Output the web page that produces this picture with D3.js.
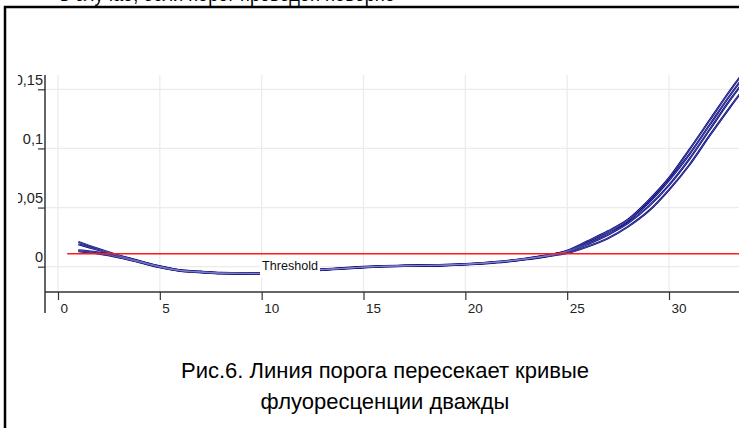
<!DOCTYPE html>
<html>
<head>
<meta charset="utf-8">
<script src="https://cdn.jsdelivr.net/npm/d3@7"></script>
<style>
  html, body { margin: 0; padding: 0; background: #fff; }
  svg { display: block; }
</style>
</head>
<body>
<svg id="chart" width="739" height="428"></svg>
<script>
// Amplification curves (fluorescence vs. cycle) for four replicate wells
const cycles = d3.range(1, 35);
const wellA = [0.021, 0.015, 0.0095, 0.0048, 0.0004, -0.0029, -0.0041, -0.0051, -0.0053, -0.0054,
               -0.0044, -0.0032, -0.0021, -0.0012, -0.0001, 0.0006, 0.0010, 0.0013, 0.0016, 0.0023,
               0.0034, 0.0049, 0.0070, 0.0096, 0.0135, 0.0215, 0.030, 0.040, 0.056, 0.075,
               0.099, 0.124, 0.149, 0.172];
const wellB = [0.019, 0.014, 0.0090, 0.0045, 0.0001, -0.0031, -0.0043, -0.0053, -0.0055, -0.0056,
               -0.0046, -0.0034, -0.0023, -0.0014, -0.0003, 0.0004, 0.0008, 0.0011, 0.0014, 0.0021,
               0.0032, 0.0047, 0.0068, 0.0094, 0.0130, 0.0200, 0.029, 0.039, 0.054, 0.073,
               0.095, 0.120, 0.145, 0.168];
const wellC = [0.014, 0.012, 0.0082, 0.0040, -0.0003, -0.0034, -0.0046, -0.0056, -0.0057, -0.0058,
               -0.0048, -0.0036, -0.0025, -0.0015, -0.0004, 0.0003, 0.0007, 0.0010, 0.0013, 0.0020,
               0.0031, 0.0045, 0.0065, 0.0091, 0.0125, 0.0190, 0.027, 0.037, 0.051, 0.069,
               0.091, 0.116, 0.141, 0.164];
const wellD = [0.013, 0.011, 0.0078, 0.0037, -0.0005, -0.0036, -0.0048, -0.0058, -0.0059, -0.0060,
               -0.0050, -0.0038, -0.0027, -0.0017, -0.0006, 0.0001, 0.0005, 0.0008, 0.0011, 0.0018,
               0.0028, 0.0042, 0.0062, 0.0087, 0.0115, 0.0170, 0.024, 0.034, 0.047, 0.065,
               0.086, 0.111, 0.135, 0.158];
const wells = [wellA, wellB, wellC, wellD];

const threshold = 0.011;
const thresholdStart = 0.45;
const xTicks = [0, 5, 10, 15, 20, 25, 30];
const yTicks = [0, 0.05, 0.1, 0.15];
const headerText = "в случае, если порог проведен неверно";
const captionLines = ["Рис.6. Линия порога пересекает кривые", "флуоресценции дважды"];

const svg = d3.select("#chart");
const W = 739;
const axisX = 45, axisY = 292, plotTop = 75;
const font = "Liberation Sans, Arial, sans-serif";

const x = d3.scaleLinear().domain([0, 30]).range([58, 669]);
const y = d3.scaleLinear().domain([0, 0.15]).range([266.7, 89.3]);

// clipped drawing area for the chart panel
svg.append("defs").append("clipPath").attr("id", "panel")
  .append("rect").attr("x", 18).attr("y", 0).attr("width", W - 18).attr("height", 330);

// text line above the frame, running off the top edge
svg.append("text")
  .attr("x", 60).attr("y", 0.5)
  .attr("font-family", font)
  .attr("font-size", 22).attr("fill", "#000")
  .attr("textLength", 335).attr("lengthAdjust", "spacingAndGlyphs")
  .text(headerText);

// frame
svg.append("rect")
  .attr("x", 5).attr("y", 7).attr("width", W + 10).attr("height", 440)
  .attr("fill", "none").attr("stroke", "#000").attr("stroke-width", 2.5);

const g = svg.append("g").attr("clip-path", "url(#panel)");

// grid
g.append("g").selectAll("line").data(xTicks).join("line")
  .attr("x1", d => x(d)).attr("x2", d => x(d))
  .attr("y1", plotTop).attr("y2", axisY)
  .attr("stroke", "#ebebeb").attr("stroke-width", 1.2);
g.append("g").selectAll("line").data(yTicks).join("line")
  .attr("x1", axisX).attr("x2", W)
  .attr("y1", d => y(d)).attr("y2", d => y(d))
  .attr("stroke", "#ebebeb").attr("stroke-width", 1.2);

// x axis
const xAxis = g.append("g")
  .attr("transform", `translate(0,${axisY})`)
  .call(d3.axisBottom(x).tickValues(xTicks).tickSize(8).tickSizeOuter(0));
xAxis.select(".domain").remove();
xAxis.selectAll(".tick line").attr("stroke", "#333").attr("stroke-width", 1.2);
xAxis.selectAll(".tick text")
  .attr("font-family", font).attr("font-size", 13.5).attr("fill", "#222")
  .attr("text-anchor", "start").attr("x", 2).attr("y", 20.5).attr("dy", 0);
g.append("line")
  .attr("x1", axisX).attr("x2", W).attr("y1", axisY).attr("y2", axisY)
  .attr("stroke", "#333").attr("stroke-width", 1.5);

// y axis
const yAxis = g.append("g")
  .attr("transform", `translate(${axisX},0)`)
  .call(d3.axisLeft(y).tickValues(yTicks).tickSize(7).tickSizeOuter(0)
    .tickFormat(d => d3.format("")(d).replace(".", ",")));
yAxis.select(".domain").remove();
yAxis.selectAll(".tick line").attr("stroke", "#333").attr("stroke-width", 1.2);
yAxis.selectAll(".tick text")
  .attr("font-family", font).attr("font-size", 14.5).attr("fill", "#222")
  .attr("text-anchor", "end").attr("x", -2).attr("y", -5).attr("dy", 0);
g.append("line")
  .attr("x1", axisX).attr("x2", axisX).attr("y1", plotTop).attr("y2", 313)
  .attr("stroke", "#333").attr("stroke-width", 1.5);

// amplification curves: dark outline with a light core
const line = d3.line()
  .x((d, i) => x(cycles[i]))
  .y(d => y(d))
  .curve(d3.curveMonotoneX);
const curves = g.append("g");
curves.selectAll("path.outer").data(wells).join("path")
  .attr("class", "outer")
  .attr("d", line)
  .attr("fill", "none")
  .attr("stroke", "#00007a")
  .attr("stroke-width", 2);
curves.selectAll("path.inner").data(wells).join("path")
  .attr("class", "inner")
  .attr("d", line)
  .attr("fill", "none")
  .attr("stroke", "#9a9ad0")
  .attr("stroke-width", 0.5);

// threshold line
g.append("line")
  .attr("x1", x(thresholdStart)).attr("x2", W)
  .attr("y1", y(threshold)).attr("y2", y(threshold))
  .attr("stroke", "#ff1a1a").attr("stroke-width", 1.6);

// threshold label on a white box
const labelX = 260;
g.append("rect")
  .attr("x", labelX).attr("y", y(threshold) + 3.5)
  .attr("width", 60).attr("height", 20).attr("fill", "#fff");
g.append("text")
  .attr("x", labelX + 2).attr("y", y(threshold) + 16.5)
  .attr("font-family", font).attr("font-size", 12.5).attr("fill", "#111")
  .attr("textLength", 56).attr("lengthAdjust", "spacingAndGlyphs")
  .text("Threshold");

// caption
svg.append("g").selectAll("text").data(captionLines).join("text")
  .attr("x", 385).attr("y", (d, i) => 378 + i * 31)
  .attr("text-anchor", "middle")
  .attr("font-family", font).attr("font-size", 22).attr("fill", "#000")
  .text(d => d);
</script>
</body>
</html>
